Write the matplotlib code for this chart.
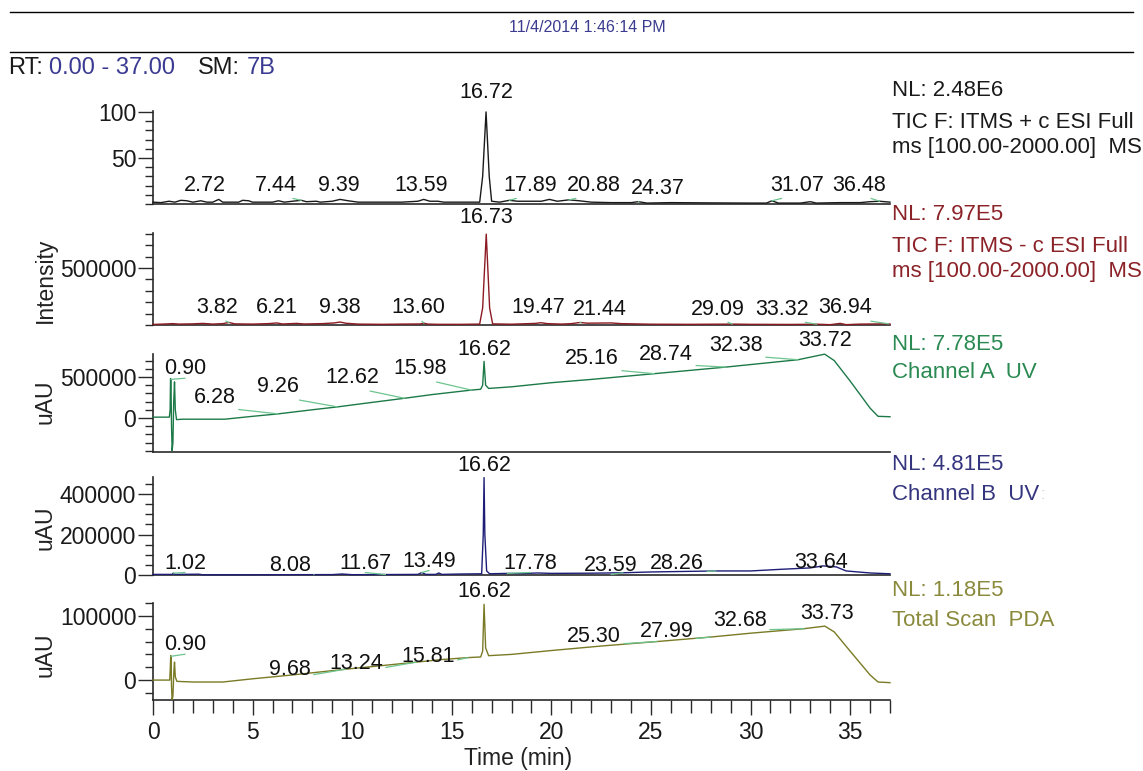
import numpy as np
import matplotlib
matplotlib.use('Agg')
import matplotlib.pyplot as plt
from matplotlib.ticker import MultipleLocator, FixedLocator, FuncFormatter
from matplotlib.lines import Line2D

plt.rcParams['font.family'] = ['Liberation Sans', 'DejaVu Sans']

# ---------------- data ----------------
# Panel 1: TIC +ESI (relative %)
p1_t = [0, 0.4, 0.8, 1.1, 1.4, 1.7, 2.0, 2.4, 2.7, 3.0, 3.3, 3.5, 4.3, 4.5, 4.8, 5.0, 6.0, 6.3, 6.6,
        7.0, 7.44, 7.7, 8.2, 8.4, 9.0, 9.39, 9.8, 10.3, 11.5, 12.5, 13.3, 13.59, 13.9, 14.3, 14.6,
        16.4, 16.55, 16.72, 16.88, 17.0, 17.4, 17.89, 18.3, 19.5, 19.9, 20.3, 20.88, 21.4, 22.0,
        23.0, 24.0, 24.37, 24.8, 26.0, 28.0, 30.0, 30.8, 31.07, 31.4, 32.5, 33.0, 33.3, 34.5,
        35.5, 36.0, 36.48, 37.0]
p1_v = [2, 1.5, 3, 2, 4, 3.5, 2, 3.5, 2, 2, 5, 2, 2, 4, 3.5, 2, 2, 3.5, 2,
        3, 4, 2.5, 3, 2, 3, 5, 3.5, 2, 2, 2, 3, 5, 3, 3, 2,
        2, 30, 100, 30, 3, 2, 4, 3, 3, 5, 3, 4.5, 3.5, 2,
        1.5, 1.5, 2.5, 1, 1.5, 1.2, 1, 1, 3.5, 1, 1, 2.5, 1, 1.5,
        1.5, 2.5, 3, 2]
p1_peaks = [2.72, 7.44, 9.39, 13.59, 16.72, 17.89, 20.88, 24.37, 31.07, 36.48]

# Panel 2: TIC -ESI (counts)
p2_t = [0, 0.5, 1.0, 1.3, 2.0, 2.5, 3.0, 3.5, 3.82, 4.1, 5.0, 5.8, 6.21, 6.5, 7.2, 7.6, 8.5,
        9.1, 9.38, 9.7, 10.3, 11.5, 12.5, 13.4, 13.6, 13.8, 14.3, 15.5, 16.4, 16.55, 16.73,
        16.9, 17.05, 18.0, 19.2, 19.47, 19.8, 20.5, 21.0, 21.44, 21.8, 23.0, 23.5, 25.0,
        27.0, 29.09, 30.0, 32.0, 33.32, 34.0, 34.5, 34.8, 35.5, 36.94, 37.0]
p2_v = [5000, 8000, 12000, 8000, 10000, 14000, 8000, 12000, 22000, 10000, 8000, 12000, 18000,
        9000, 14000, 9000, 12000, 18000, 26000, 15000, 8000, 6000, 8000, 9000, 16000, 8000,
        6000, 6000, 8000, 150000, 797000, 150000, 10000, 7000, 14000, 20000, 12000, 8000,
        12000, 22000, 16000, 18000, 12000, 7000, 6000, 8000, 6000, 5000, 7000, 3000, 14000,
        3000, 8000, 10000, 8000]
p2_peaks = [3.82, 6.21, 9.38, 13.60, 16.73, 19.47, 21.44, 29.09, 33.32, 36.94]

# Panel 3: Channel A UV (uAU)
p3_t = [0, 0.82, 0.86, 0.88, 0.90, 0.93, 0.96, 1.0, 1.04, 1.08, 1.12, 1.18, 1.5, 3.6, 5.0,
        6.28, 8.0, 9.26, 11.0, 12.62, 14.0, 15.98, 16.45, 16.55, 16.62, 16.7, 16.85, 18.0,
        20.0, 22.0, 25.16, 28.74, 32.38, 33.72, 34.2, 35.0, 36.0, 36.4, 37.0]
p3_v = [10000, 10000, 100000, 480000, 470000, -100000, -400000, -300000, 200000, 440000,
        100000, -20000, -15000, -15000, 20000, 50000, 100000, 135000, 190000, 240000, 285000,
        340000, 350000, 400000, 690000, 400000, 360000, 380000, 430000, 470000, 540000,
        620000, 710000, 778000, 700000, 450000, 120000, 20000, 15000]
p3_peaks = [0.90, 6.28, 9.26, 12.62, 15.98, 16.62, 25.16, 28.74, 32.38, 33.72]

# Panel 4: Channel B UV (uAU)
p4_t = [0, 0.95, 1.02, 1.1, 2.3, 2.5, 4.5, 9.0, 9.5, 10.0, 13.3, 13.49, 13.7, 14.2, 14.35, 14.5,
        15.5, 16.5, 16.58, 16.62, 16.66, 16.75, 16.9, 17.78, 18.5, 19.3, 20.0, 22.0, 23.59,
        25.0, 28.26, 30.0, 31.5, 33.0, 33.64, 34.3, 34.8, 36.0, 37.0]
p4_v = [3000, 3000, 9000, 3000, 4000, 1000, 1000, 2000, 5000, 1500, 3000, 12000, 3000, 3000,
        10000, 3000, 5000, 6000, 200000, 481000, 200000, 20000, 6000, 8000, 7000, 10000, 8000,
        9000, 11000, 15000, 20000, 20000, 28000, 35000, 45000, 40000, 20000, 10000, 6000]
p4_peaks = [1.02, 8.08, 11.67, 13.49, 16.62, 17.78, 23.59, 28.26, 33.64]

# Panel 5: Total Scan PDA (uAU)
p5_t = [0, 0.84, 0.87, 0.89, 0.91, 0.93, 0.96, 1.0, 1.05, 1.08, 1.12, 1.2, 2.0, 3.5, 5.0, 7.0,
        9.68, 11.0, 13.24, 14.5, 15.81, 16.45, 16.55, 16.62, 16.7, 16.85, 18.0, 20.0, 22.5,
        25.30, 27.99, 30.0, 32.68, 33.73, 34.2, 35.0, 36.0, 36.4, 37.0]
p5_v = [0, 0, 20000, 38000, 36000, -10000, -30000, -25000, 15000, 28000, 5000, -2000, -3000,
        -3000, 2000, 8000, 17000, 21000, 28000, 32000, 35000, 36000, 45000, 118000, 50000,
        38000, 40000, 46000, 53000, 60000, 67000, 73000, 80000, 84000, 75000, 45000, 8000,
        -3000, -4000]
p5_peaks = [0.90, 9.68, 13.24, 15.81, 16.62, 25.30, 27.99, 32.68, 33.73]

x_ticks = [0, 5, 10, 15, 20, 25, 30, 35]

# ---------------- layout (label placement, colours) ----------------
W, H = 1143, 771
fig = plt.figure(figsize=(W / 100, H / 100), dpi=100)
X0, X1 = 153, 890

panels = [
    dict(t=p1_t, v=p1_v, peaks=p1_peaks, ylim=(0, 101), top=111, bot=204,
         major=[50, 100], minor=10, col='#1a1a1a',
         lx=[2.61, 6.18, 9.34, 13.46, 16.72, 18.94, 22.15, 25.36, 32.35, 35.46],
         ly=[20.5, 20.5, 20.5, 20.5, 121, 20.5, 20.5, 17, 20.5, 20.5]),
    dict(t=p2_t, v=p2_v, peaks=p2_peaks, ylim=(0, 807000), top=233, bot=325,
         major=[500000], minor=100000, col='#8b1a22',
         lx=[3.21, 6.23, 9.39, 13.31, 16.73, 19.34, 22.45, 28.38, 31.59, 34.76],
         ly=[150000, 150000, 150000, 150000, 945000, 150000, 140000, 140000, 140000, 150000]),
    dict(t=p3_t, v=p3_v, peaks=p3_peaks, ylim=(-415000, 780000), top=354, bot=452,
         major=[0, 500000], minor=100000, col='#1d7a48',
         lx=[1.61, 3.11, 6.28, 9.99, 13.41, 16.62, 22.05, 25.77, 29.28, 33.75],
         ly=[600000, 250000, 380000, 490000, 600000, 830000, 725000, 775000, 885000, 940000]),
    dict(t=p4_t, v=p4_v, peaks=p4_peaks, ylim=(0, 484000), top=477, bot=575,
         major=[0, 200000, 400000], minor=50000, col='#1e1e78',
         lx=[1.61, 6.88, 10.65, 13.86, 16.62, 18.94, 23.0, 26.32, 33.55],
         ly=[59000, 49000, 59000, 69000, 540000, 59000, 49000, 59000, 64000]),
    dict(t=p5_t, v=p5_v, peaks=p5_peaks, ylim=(-31000, 120000), top=603, bot=700,
         major=[0, 100000], minor=20000, col='#7a7a26',
         lx=[1.61, 6.88, 10.2, 13.81, 16.62, 22.15, 25.77, 29.48, 33.85],
         ly=[55000, 17000, 26500, 36000, 137500, 68500, 75000, 92000, 103000]),
]

leader_col = '#6cc48e'
axes = []
for i, p in enumerate(panels):
    ax = fig.add_axes([X0 / W, 1 - p['bot'] / H, (X1 - X0) / W, (p['bot'] - p['top']) / H])
    axes.append(ax)
    ax.plot(p['t'], p['v'], color=p['col'], lw=1.0, clip_on=False, zorder=3)
    ax.set_xlim(0, 37)
    ax.set_ylim(*p['ylim'])
    ax.patch.set_alpha(0)
    for s in ('top', 'right'):
        ax.spines[s].set_visible(False)
    for s in ('left', 'bottom'):
        ax.spines[s].set_color('#2a2a2a')
        ax.spines[s].set_linewidth(1.2)
    ax.yaxis.set_major_locator(FixedLocator(p['major']))
    ax.yaxis.set_minor_locator(MultipleLocator(p['minor']))
    ax.yaxis.set_major_formatter(FuncFormatter(lambda v, pos: f"{v:.0f}"))
    ax.tick_params(axis='y', which='major', length=11, width=1.0, color='#2a2a2a',
                   labelsize=16.5, pad=1, direction='out', labelcolor='#1a1a1a')
    ax.tick_params(axis='y', which='minor', length=6, width=1.0, color='#2a2a2a', direction='out')
    if i < len(panels) - 1:
        ax.tick_params(axis='x', which='both', bottom=False, labelbottom=False)
    else:
        ax.xaxis.set_major_locator(FixedLocator(x_ticks))
        ax.xaxis.set_minor_locator(MultipleLocator(1))
        ax.tick_params(axis='x', which='major', length=11, width=1.0, color='#2a2a2a',
                       labelsize=16.5, pad=4, direction='out', labelcolor='#1a1a1a')
        ax.tick_params(axis='x', which='minor', length=9, width=1.0, color='#2a2a2a',
                       direction='out')
    for rt, lx, ly in zip(p['peaks'], p['lx'], p['ly']):
        yv = float(np.interp(rt, p['t'], p['v']))
        txt = f"{rt:.2f}"
        if abs(lx - rt) > 0.25:
            ax.annotate(txt, xy=(rt, yv), xytext=(lx, ly), ha='center', va='center',
                        fontsize=15.5, color='#111111', annotation_clip=False, zorder=4,
                        arrowprops=dict(arrowstyle='-', color=leader_col, lw=0.9,
                                        shrinkA=0, shrinkB=0, relpos=(0.5, 0.05)))
        else:
            ax.text(lx, ly, txt, ha='center', va='center', fontsize=15.5,
                    color='#111111', clip_on=False, zorder=4)

fig.text(45 / W, 1 - 280 / H, 'Intensity', rotation=90, ha='center', va='center',
         fontsize=16.5, color='#222222')
for yc in (402, 528, 655):
    fig.text(45 / W, 1 - yc / H, 'uAU', rotation=90, ha='center', va='center',
             fontsize=16.5, color='#222222')
fig.text(518 / W, 1 - 758 / H, 'Time (min)', ha='center', va='center', fontsize=16.5,
         color='#222222')

right = [
    ('#1a1a1a', [(90, 'NL: 2.48E6'), (122, 'TIC F: ITMS + c ESI Full'),
                 (147, 'ms [100.00-2000.00]  MS')]),
    ('#8b2228', [(214, 'NL: 7.97E5'), (246, 'TIC F: ITMS - c ESI Full'),
                 (271, 'ms [100.00-2000.00]  MS')]),
    ('#2a8a52', [(344, 'NL: 7.78E5'), (372, 'Channel A  UV')]),
    ('#35357f', [(464, 'NL: 4.81E5'), (494, 'Channel B  UV')]),
    ('#8a8a3c', [(591, 'NL: 1.18E5'), (620, 'Total Scan  PDA')]),
]
for col, lines in right:
    for y, s in lines:
        fig.text(892 / W, 1 - y / H, s, ha='left', va='center', fontsize=16, color=col)
fig.text(1040 / W, 1 - 494 / H, ':', ha='left', va='center', fontsize=12, color='#d0d0d8')

fig.add_artist(Line2D([10 / W, 1133 / W], [1 - 12 / H] * 2, color='black', lw=1.0))
fig.add_artist(Line2D([10 / W, 1133 / W], [1 - 52 / H] * 2, color='black', lw=1.0))
fig.text(587 / W, 1 - 27 / H, '11/4/2014 1:46:14 PM', ha='center', va='center',
         fontsize=11.5, color='#3b3b8f')

fig.canvas.draw()
r = fig.canvas.get_renderer()
x = 8
sp = 6.5
for s, c, gap in [('RT:', '#1a1a1a', sp), ('0.00 - 37.00', '#3a3a92', sp * 3.5),
                  ('SM:', '#1a1a1a', sp), ('7B', '#3a3a92', 0)]:
    t = fig.text(x / W, 1 - 68 / H, s, ha='left', va='center', fontsize=17, color=c)
    bb = t.get_window_extent(renderer=r)
    x += bb.width + gap

fig.savefig('out.png', dpi=100)
